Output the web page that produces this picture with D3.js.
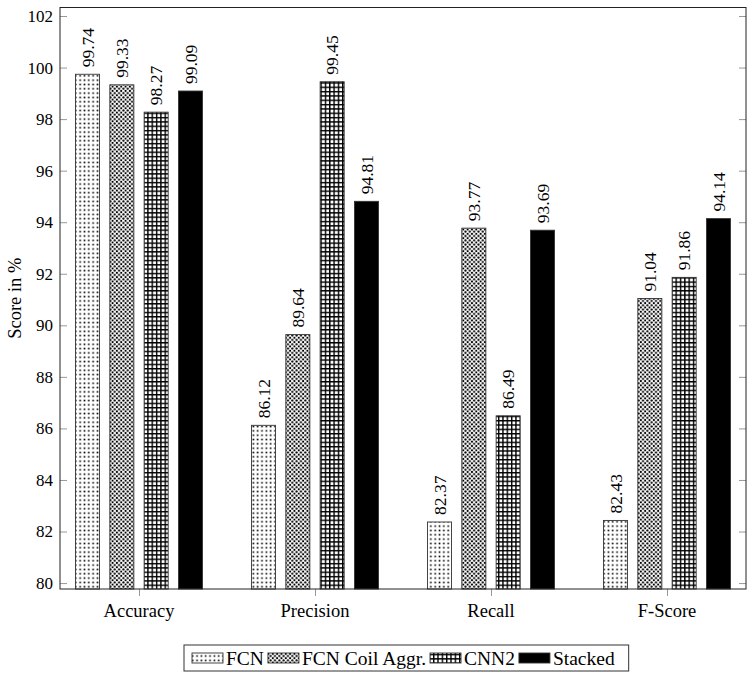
<!DOCTYPE html>
<html>
<head>
<meta charset="utf-8">
<script src="https://cdn.jsdelivr.net/npm/d3@7"></script>
<style>
  body { margin: 0; background: #fff; }
  svg text { fill: #000; }
</style>
</head>
<body>
<div id="chart"></div>
<script>
var categories = ["Accuracy", "Precision", "Recall", "F-Score"];
var series = ["FCN", "FCN Coil Aggr.", "CNN2", "Stacked"];
var fcn = [99.74, 86.12, 82.37, 82.43];
var fcnCoil = [99.33, 89.64, 93.77, 91.04];
var cnn2 = [98.27, 99.45, 86.49, 91.86];
var stacked = [99.09, 94.81, 93.69, 94.14];
var yTicks = [80, 82, 84, 86, 88, 90, 92, 94, 96, 98, 100, 102];

var values = [fcn, fcnCoil, cnn2, stacked];
var fills = ["url(#dots)", "url(#xdots)", "url(#grid)", "#000"];

var W = 747, H = 677;
var mLeft = 60, mRight = 746, mTop = 7.5, mBottom = 589;

var svg = d3.select("#chart").append("svg")
    .attr("width", W).attr("height", H)
    .attr("font-family", "'Liberation Serif', Tinos, 'Times New Roman', Times, serif");

// patterns
var defs = svg.append("defs");
var t = 4.33;
var p1 = defs.append("pattern").attr("id", "dots").attr("patternUnits", "userSpaceOnUse")
    .attr("width", t).attr("height", t);
p1.append("rect").attr("width", t).attr("height", t).attr("fill", "#fff");
p1.append("rect").attr("x", 1.4).attr("y", 1.4).attr("width", 1.6).attr("height", 1.6).attr("fill", "#000");

var p2 = defs.append("pattern").attr("id", "xdots").attr("patternUnits", "userSpaceOnUse")
    .attr("width", t).attr("height", t);
p2.append("rect").attr("width", t).attr("height", t).attr("fill", "#fff");
[[0, 0], [t, 0], [0, t], [t, t], [t / 2, t / 2]].forEach(function(c) {
    p2.append("circle").attr("cx", c[0]).attr("cy", c[1]).attr("r", 1.1).attr("fill", "#000");
});

var p3 = defs.append("pattern").attr("id", "grid").attr("patternUnits", "userSpaceOnUse")
    .attr("width", t).attr("height", t);
p3.append("rect").attr("width", t).attr("height", t).attr("fill", "#fff");
p3.append("rect").attr("x", 0).attr("y", 0).attr("width", t).attr("height", 1.4).attr("fill", "#000");
p3.append("rect").attr("x", 0).attr("y", 0).attr("width", 1.4).attr("height", t).attr("fill", "#000");

var y = d3.scaleLinear().domain([79.77, 102.33]).range([mBottom, mTop]);
var x = d3.scalePoint().domain(categories).range([139, 667]);
var xs = d3.scaleBand().domain(series).range([-63.5, 63.5]).paddingInner(0.3);

// y axis ticks (inside, both sides)
var yAxisL = d3.axisRight(y).tickValues(yTicks).tickSize(7).tickFormat("");
svg.append("g").attr("transform", "translate(" + mLeft + ",0)").call(yAxisL)
    .call(function(g) { g.select(".domain").remove(); g.selectAll("line").attr("stroke", "#999"); });
var yAxisR = d3.axisLeft(y).tickValues(yTicks).tickSize(7).tickFormat("");
svg.append("g").attr("transform", "translate(" + mRight + ",0)").call(yAxisR)
    .call(function(g) { g.select(".domain").remove(); g.selectAll("line").attr("stroke", "#999"); });

svg.append("g").selectAll("text").data(yTicks).enter().append("text")
    .attr("x", 53).attr("y", function(d) { return y(d); })
    .attr("dy", "0.35em").attr("text-anchor", "end")
    .attr("font-size", 17)
    .text(function(d) { return d; });

// x axis ticks (outside)
var xAxis = d3.axisBottom(x).tickSize(7).tickFormat("");
svg.append("g").attr("transform", "translate(0," + mBottom + ")").call(xAxis)
    .call(function(g) { g.select(".domain").remove(); g.selectAll("line").attr("stroke", "#999"); });

svg.append("g").selectAll("text").data(categories).enter().append("text")
    .attr("x", function(d) { return x(d); }).attr("y", 617)
    .attr("text-anchor", "middle").attr("font-size", 18.5)
    .text(function(d) { return d; });

// bars
series.forEach(function(s, i) {
    var g = svg.append("g");
    g.selectAll("rect").data(values[i]).enter().append("rect")
        .attr("x", function(d, j) { return x(categories[j]) + xs(s); })
        .attr("width", xs.bandwidth())
        .attr("y", function(d) { return y(d); })
        .attr("height", function(d) { return mBottom - y(d); })
        .attr("fill", fills[i])
        .attr("stroke", "#333").attr("stroke-width", 0.9);
    g.selectAll("text").data(values[i]).enter().append("text")
        .attr("transform", function(d, j) {
            return "translate(" + (x(categories[j]) + xs(s) + xs.bandwidth() / 2) + "," + (y(d) - 7) + ") rotate(-90)";
        })
        .attr("dy", "0.35em").attr("font-size", 17.5)
        .text(function(d) { return d.toFixed(2); });
});

// frame
svg.append("rect").attr("x", mLeft).attr("y", mTop)
    .attr("width", mRight - mLeft).attr("height", mBottom - mTop)
    .attr("fill", "none").attr("stroke", "#222").attr("stroke-width", 1);

// y label
svg.append("text").attr("transform", "translate(15," + ((mTop + mBottom) / 2) + ") rotate(-90)")
    .attr("text-anchor", "middle").attr("dy", "0.35em").attr("font-size", 18.5)
    .text("Score in %");

// legend
var legBox = svg.append("rect");
var leg = svg.append("g");
var lx = 192, ly = 658;
series.forEach(function(s, i) {
    leg.append("rect").attr("x", lx).attr("y", ly - 5).attr("width", 31).attr("height", 10)
        .attr("fill", fills[i]).attr("stroke", "#333").attr("stroke-width", 0.9);
    var tx = leg.append("text").attr("x", lx + 34).attr("y", ly).attr("dy", "0.35em")
        .attr("font-size", 19.5).text(s);
    lx += 34 + tx.node().getComputedTextLength() + 4;
});
legBox.attr("x", 184).attr("y", 645).attr("width", lx + 10 - 184).attr("height", 26)
    .attr("fill", "#fff").attr("stroke", "#333").attr("stroke-width", 1);
</script>
</body>
</html>
